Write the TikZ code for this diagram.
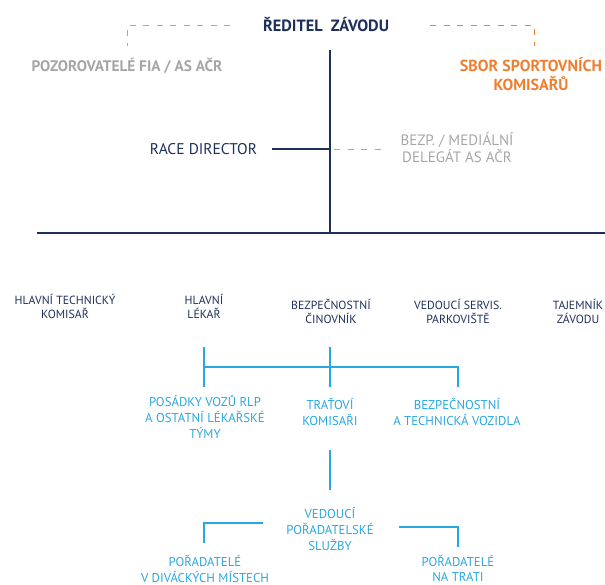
\documentclass[tikz,border=0pt]{standalone}
\usepackage{fontspec}
\setmainfont{PT Sans}
\definecolor{navy}{HTML}{1F2F5C}
\definecolor{grayt}{HTML}{A6A6A6}
\definecolor{orng}{HTML}{EF7F2F}
\definecolor{cyan2}{HTML}{2AA7DE}
\newcommand\UC[1]{\MakeUppercase{#1}}
\begin{document}
\begin{tikzpicture}[x=1pt,y=-1pt,
  every node/.style={inner sep=0pt, outer sep=0pt, align=center},
  top/.style={text=navy, font=\fontsize{16.3}{17}\selectfont\bfseries},
  grey/.style={text=grayt, font=\fontsize{15}{17.6}\selectfont},
  greyb/.style={text=grayt, font=\fontsize{15.3}{18}\selectfont\bfseries},
  orangetxt/.style={text=orng, font=\fontsize{16}{19}\selectfont\bfseries},
  rd/.style={text=navy, font=\fontsize{15.5}{17}\selectfont},
  row/.style={text=navy, font=\fontsize{11.8}{14.5}\selectfont},
  bl/.style={text=cyan2, font=\fontsize{12.8}{15.8}\selectfont},
  nline/.style={draw=navy, line width=1.1pt},
  bline/.style={draw=cyan2, line width=1.2pt},
  gdash/.style={draw=grayt, line width=0.9pt, dash pattern=on 6pt off 7.5pt},
  odash/.style={draw=orng, line width=0.9pt, dash pattern=on 6pt off 7.5pt}]
\useasboundingbox (0,0) rectangle (605,585);
% top
\node[top] (dir) at (326,25) {\UC{ŘEDITEL}\ \ \UC{ZÁVODU}};
\node[greyb] (poz) at (127,66) {\UC{POZOROVATELÉ FIA / AS AČR}};
\node[orangetxt] (sbor) at (531,74.5) {\UC{SBOR SPORTOVNÍCH}\\\UC{KOMISAŘŮ}};
\coordinate (gl1) at (230,25);
\coordinate (gl2) at (127,25);
\coordinate (gl3) at (127,46);
\coordinate (ol1) at (430,25);
\coordinate (ol2) at (534,25);
\coordinate (ol3) at (534,46);
\draw[gdash] (gl1) -- (gl2) -- (gl3);
\draw[odash] (ol1) -- (ol2) -- (ol3);
% main trunk
\coordinate (trTop) at (330,50);
\coordinate (trBot) at (330,233);
\coordinate (hL) at (37,233);
\coordinate (hR) at (605,233);
\draw[nline] (trTop) -- (trBot);
\draw[nline] (hL) -- (hR);
\node[rd] (race) at (203.5,149) {\UC{RACE DIRECTOR}};
\node[grey] (bezp) at (457,147.5) {\UC{BEZP. / MEDIÁLNÍ}\\\UC{DELEGÁT AS AČR}};
\coordinate (rdEnd) at (272,149);
\coordinate (rdMid) at (330,149);
\coordinate (bzEnd) at (387,149);
\draw[nline] (rdEnd) -- (rdMid);
\draw[gdash, dash phase=9.5pt] (rdMid) -- (bzEnd);
% row 2
\node[row] (htk) at (65,306.5) {\UC{HLAVNÍ TECHNICKÝ}\\\UC{KOMISAŘ}};
\node[row] (hl) at (204,306.5) {\UC{HLAVNÍ}\\\UC{LÉKAŘ}};
\node[row] (bc) at (331,311.5) {\UC{BEZPEČNOSTNÍ}\\\UC{ČINOVNÍK}};
\node[row] (vsp) at (458,311.5) {\UC{VEDOUCÍ SERVIS.}\\\UC{PARKOVIŠTĚ}};
\node[row] (tz) at (578,311.5) {\UC{TAJEMNÍK}\\\UC{ZÁVODU}};
% blue branch
\coordinate (b1t) at (204,347);
\coordinate (b1b) at (204,387);
\coordinate (b2t) at (330,347);
\coordinate (b2b) at (330,387);
\coordinate (b3m) at (458,367);
\coordinate (b3b) at (458,387);
\coordinate (b1m) at (204,367);
\draw[bline] (b1t) -- (b1b);
\draw[bline] (b2t) -- (b2b);
\draw[bline] (b1m) -- (b3m) -- (b3b);
\node[bl] (pos) at (205,417) {\UC{POSÁDKY VOZŮ RLP}\\\UC{A OSTATNÍ LÉKAŘSKÉ}\\\UC{TÝMY}};
\node[bl] (trat) at (330,412) {\UC{TRAŤOVÍ}\\\UC{KOMISAŘI}};
\node[bl] (btv) at (457,412) {\UC{BEZPEČNOSTNÍ}\\\UC{A TECHNICKÁ VOZIDLA}};
\coordinate (c1) at (330,450);
\coordinate (c2) at (330,490);
\draw[bline] (c1) -- (c2);
\node[bl] (ved) at (330,529) {\UC{VEDOUCÍ}\\\UC{POŘADATELSKÉ}\\\UC{SLUŽBY}};
\coordinate (l1) at (263,523);
\coordinate (l2) at (204,523);
\coordinate (l3) at (204,543);
\coordinate (r1) at (399,527);
\coordinate (r2) at (458,527);
\coordinate (r3) at (458,547);
\draw[bline] (l1) -- (l2) -- (l3);
\draw[bline] (r1) -- (r2) -- (r3);
\node[bl] (pdm) at (205,569) {\UC{POŘADATELÉ}\\\UC{V DIVÁCKÝCH MÍSTECH}};
\node[bl] (pnt) at (458,568.5) {\UC{POŘADATELÉ}\\\UC{NA TRATI}};
\end{tikzpicture}
\end{document}
